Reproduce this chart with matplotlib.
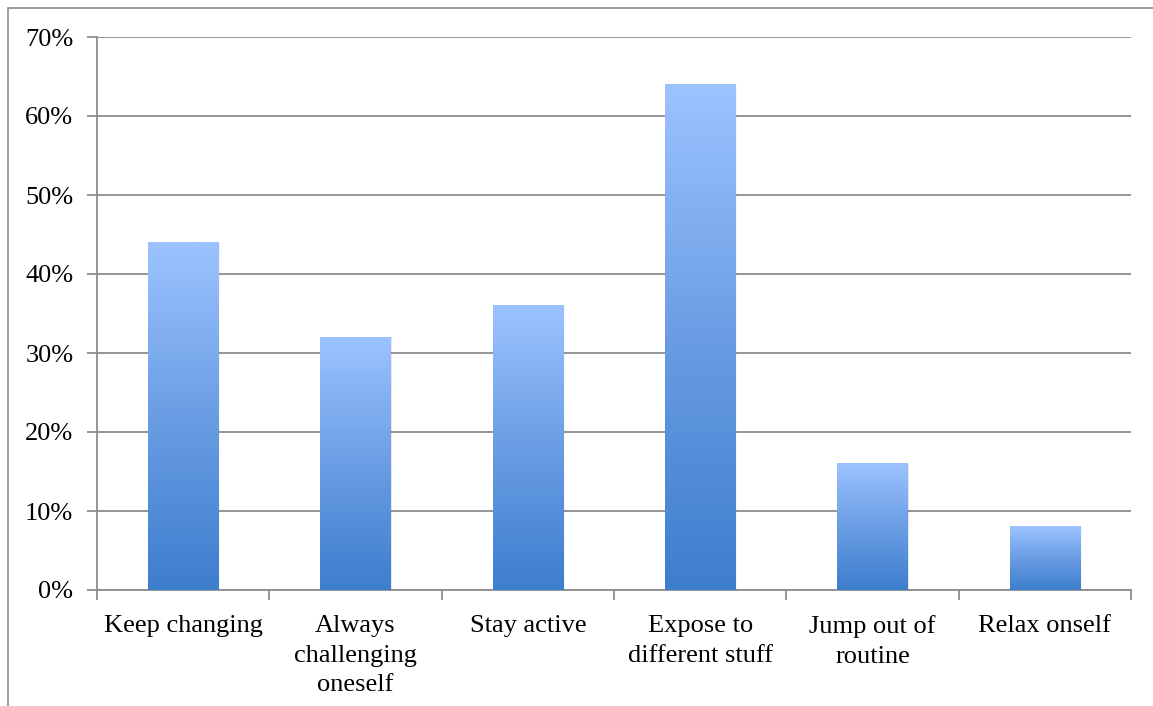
import matplotlib.pyplot as plt
import numpy as np
from matplotlib.colors import LinearSegmentedColormap
from matplotlib.patches import Rectangle

categories = ["Keep changing", "Always\nchallenging\noneself", "Stay active",
              "Expose to\ndifferent stuff", "Jump out of\nroutine", "Relax onself"]
values = [44, 32, 36, 64, 16, 8]
yticks = [0, 10, 20, 30, 40, 50, 60, 70]

dpi = 100
fig = plt.figure(figsize=(1153 / dpi, 706 / dpi), dpi=dpi)
plt.rcParams['font.family'] = ['Liberation Serif', 'DejaVu Serif']

# outer chart frame
fig.patches.append(Rectangle((8 / 1153, -0.1), 1.2, 1.1 - 8 / 706,
                             transform=fig.transFigure, fill=False,
                             edgecolor='#8c8c8c', linewidth=1.2))

ax = fig.add_axes([97 / 1153, 1 - 590 / 706, (1131 - 97) / 1153, (590 - 37) / 706])

grad = LinearSegmentedColormap.from_list('bar', ['#3d7ecd', '#6a9de4', '#9cc3ff'])
g = np.linspace(0, 1, 256).reshape(-1, 1)
width = 0.41
for i, v in enumerate(values):
    x0 = i + 0.5 - width / 2
    # faint shadow along the right edge of each bar
    for k, a in enumerate([0.06, 0.03]):
        ax.add_patch(Rectangle((x0 + 0.004 * (k + 1), 0), width, v,
                               facecolor='#000000', alpha=a,
                               edgecolor='none', zorder=2))
    ax.imshow(g, cmap=grad, origin='lower', aspect='auto',
              extent=(x0, x0 + width, 0, v), zorder=3)
ax.set_xlim(0, len(categories))
ax.set_ylim(0, 70)

ax.set_yticks(yticks)
ax.set_yticklabels(['%d%%' % t for t in yticks], fontsize=19)
ax.yaxis.grid(True, color='#8c8c8c', linewidth=1.3)
ax.set_axisbelow(True)

ax.set_xticks(np.arange(len(categories) + 1))
ax.set_xticklabels([])
ax.set_xticks(np.arange(len(categories)) + 0.5, minor=True)
ax.set_xticklabels(categories, minor=True, fontsize=19, linespacing=1.45, va='top')
ax.tick_params(axis='x', which='minor', length=0, pad=18)
ax.tick_params(axis='x', which='major', length=7, color='#8c8c8c', width=1.3)
ax.tick_params(axis='y', length=7, color='#8c8c8c', width=1.3, pad=10)

for s in ['top', 'right']:
    ax.spines[s].set_visible(False)
for s in ['left', 'bottom']:
    ax.spines[s].set_color('#8c8c8c')
    ax.spines[s].set_linewidth(1.3)

fig.savefig('out.png', dpi=dpi)
